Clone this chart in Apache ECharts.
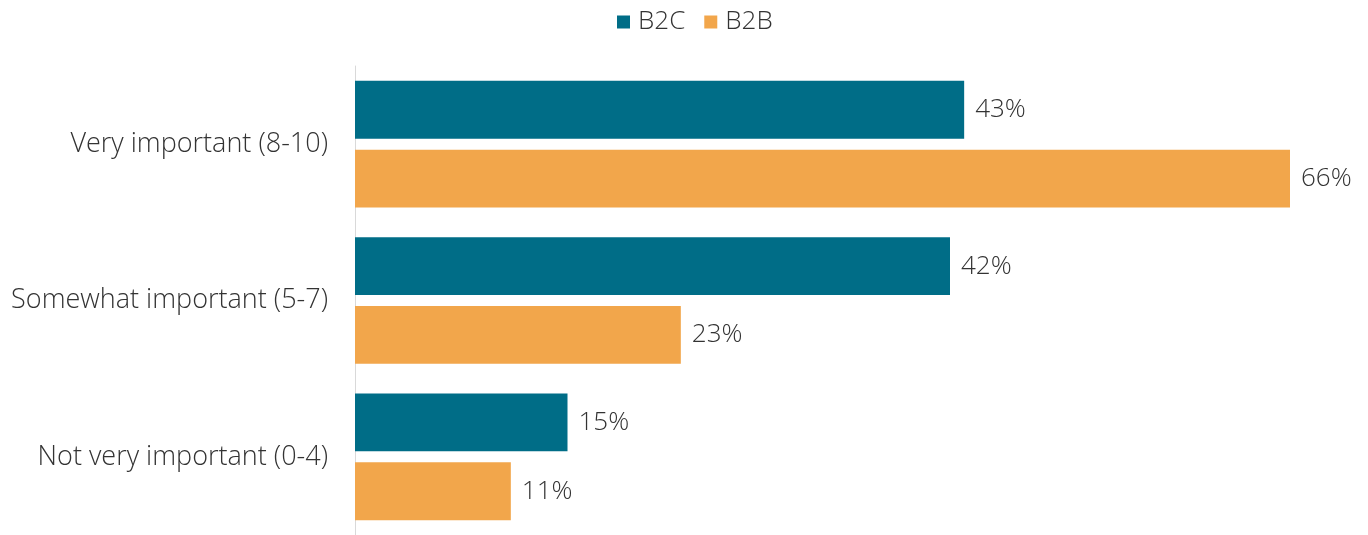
<!DOCTYPE html>
<html>
<head>
<meta charset="utf-8">
<script src="https://cdn.jsdelivr.net/npm/echarts@6/dist/echarts.min.js"></script>
<style>html,body{margin:0;padding:0;background:#fff}#c{width:1368px;height:535px}</style>
</head>
<body>
<div id="c"></div>
<script>
const categories = ["Very important (8-10)", "Somewhat important (5-7)", "Not very important (0-4)"];
const seriesNames = ["B2C", "B2B"];
const b2c = [43, 42, 15];
const b2b = [66, 23, 11];

const FONT = "Open Sans";
const chart = echarts.init(document.getElementById('c'), null, {renderer: 'canvas'});
const label = {
  show: true, position: 'right', distance: 11,
  formatter: p => p.value + '%',
  fontFamily: FONT, fontSize: 26, fontWeight: 300, color: '#333'
};
chart.setOption({
  animation: false,
  legend: {
    top: 4, left: 612, itemWidth: 13, itemHeight: 13, itemGap: 19,
    icon: 'rect',
    textStyle: {fontFamily: FONT, fontSize: 26, fontWeight: 300, color: '#333', padding: [0, 0, 0, 3]},
    data: seriesNames
  },
  grid: {left: 355, right: 78, top: 66, bottom: 0, containLabel: false},
  xAxis: {type: 'value', min: 0, max: 66, show: false},
  yAxis: {
    type: 'category', data: categories, inverse: true,
    axisLine: {show: true, lineStyle: {color: '#d9d9d9', width: 1}},
    axisTick: {show: false},
    axisLabel: {fontFamily: FONT, fontSize: 27, fontWeight: 300, color: '#333', margin: 27}
  },
  series: [
    {name: seriesNames[0], type: 'bar', data: b2c, barGap: '19%', barCategoryGap: '19%',
     itemStyle: {color: '#006D87'}, label: label},
    {name: seriesNames[1], type: 'bar', data: b2b, barGap: '19%', barCategoryGap: '19%',
     itemStyle: {color: '#F2A64B'}, label: label}
  ]
});
</script>
</body>
</html>
